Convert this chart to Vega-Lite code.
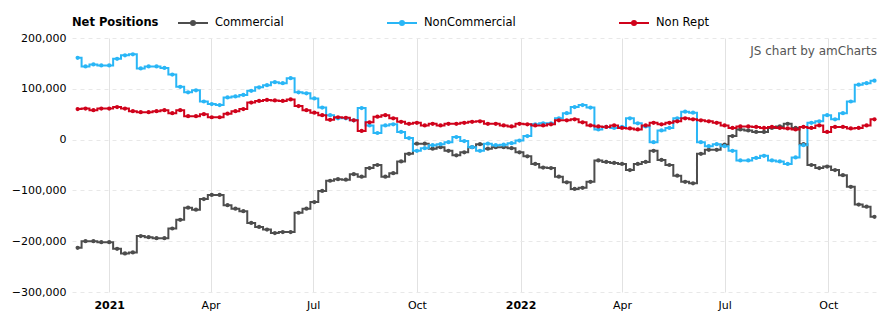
{
"$schema": "https://vega.github.io/schema/vega-lite/v6.json",
"width": 807, "height": 254,
"autosize": {"type": "none"},
"padding": {"left": 72, "top": 38, "right": 16, "bottom": 34},
"background": "white",
"config": {"view": {"stroke": null}, "font": "DejaVu Sans"},
"data": {"values": [
{"date":"2020-12-04","Commercial":-213000,"NonCommercial":161000,"Non Rept":60000},
{"date":"2020-12-11","Commercial":-200000,"NonCommercial":144000,"Non Rept":61000},
{"date":"2020-12-18","Commercial":-200000,"NonCommercial":148000,"Non Rept":58000},
{"date":"2020-12-25","Commercial":-202000,"NonCommercial":146000,"Non Rept":61000},
{"date":"2021-01-01","Commercial":-202000,"NonCommercial":146000,"Non Rept":61000},
{"date":"2021-01-08","Commercial":-215000,"NonCommercial":159000,"Non Rept":64000},
{"date":"2021-01-15","Commercial":-224000,"NonCommercial":166000,"Non Rept":61000},
{"date":"2021-01-22","Commercial":-222000,"NonCommercial":168000,"Non Rept":56000},
{"date":"2021-01-29","Commercial":-190000,"NonCommercial":140000,"Non Rept":54000},
{"date":"2021-02-05","Commercial":-192000,"NonCommercial":144000,"Non Rept":54000},
{"date":"2021-02-12","Commercial":-194000,"NonCommercial":144000,"Non Rept":56000},
{"date":"2021-02-19","Commercial":-194000,"NonCommercial":141000,"Non Rept":58000},
{"date":"2021-02-26","Commercial":-175000,"NonCommercial":128000,"Non Rept":52000},
{"date":"2021-03-05","Commercial":-158000,"NonCommercial":104000,"Non Rept":58000},
{"date":"2021-03-12","Commercial":-134000,"NonCommercial":93000,"Non Rept":46000},
{"date":"2021-03-19","Commercial":-138000,"NonCommercial":97000,"Non Rept":46000},
{"date":"2021-03-26","Commercial":-117000,"NonCommercial":75000,"Non Rept":50000},
{"date":"2021-04-02","Commercial":-109000,"NonCommercial":70000,"Non Rept":44000},
{"date":"2021-04-09","Commercial":-109000,"NonCommercial":68000,"Non Rept":44000},
{"date":"2021-04-16","Commercial":-129000,"NonCommercial":83000,"Non Rept":51000},
{"date":"2021-04-23","Commercial":-136000,"NonCommercial":85000,"Non Rept":56000},
{"date":"2021-04-30","Commercial":-141000,"NonCommercial":88000,"Non Rept":60000},
{"date":"2021-05-07","Commercial":-164000,"NonCommercial":96000,"Non Rept":73000},
{"date":"2021-05-14","Commercial":-172000,"NonCommercial":103000,"Non Rept":76000},
{"date":"2021-05-21","Commercial":-177000,"NonCommercial":107000,"Non Rept":78000},
{"date":"2021-05-28","Commercial":-184000,"NonCommercial":113000,"Non Rept":77000},
{"date":"2021-06-04","Commercial":-182000,"NonCommercial":111000,"Non Rept":76000},
{"date":"2021-06-11","Commercial":-182000,"NonCommercial":121000,"Non Rept":79000},
{"date":"2021-06-18","Commercial":-144000,"NonCommercial":93000,"Non Rept":66000},
{"date":"2021-06-25","Commercial":-136000,"NonCommercial":91000,"Non Rept":58000},
{"date":"2021-07-02","Commercial":-123000,"NonCommercial":81000,"Non Rept":53000},
{"date":"2021-07-09","Commercial":-101000,"NonCommercial":63000,"Non Rept":48000},
{"date":"2021-07-16","Commercial":-81000,"NonCommercial":48000,"Non Rept":39000},
{"date":"2021-07-23","Commercial":-78000,"NonCommercial":42000,"Non Rept":44000},
{"date":"2021-07-30","Commercial":-79000,"NonCommercial":42000,"Non Rept":43000},
{"date":"2021-08-06","Commercial":-68000,"NonCommercial":38000,"Non Rept":38000},
{"date":"2021-08-13","Commercial":-73000,"NonCommercial":62000,"Non Rept":17000},
{"date":"2021-08-20","Commercial":-56000,"NonCommercial":28000,"Non Rept":34000},
{"date":"2021-08-27","Commercial":-50000,"NonCommercial":13000,"Non Rept":45000},
{"date":"2021-09-03","Commercial":-73000,"NonCommercial":28000,"Non Rept":48000},
{"date":"2021-09-10","Commercial":-66000,"NonCommercial":30000,"Non Rept":42000},
{"date":"2021-09-17","Commercial":-43000,"NonCommercial":15000,"Non Rept":35000},
{"date":"2021-09-24","Commercial":-28000,"NonCommercial":3000,"Non Rept":31000},
{"date":"2021-10-01","Commercial":-8000,"NonCommercial":-22000,"Non Rept":33000},
{"date":"2021-10-08","Commercial":-8000,"NonCommercial":-17000,"Non Rept":28000},
{"date":"2021-10-15","Commercial":-18000,"NonCommercial":-11000,"Non Rept":31000},
{"date":"2021-10-22","Commercial":-15000,"NonCommercial":-9000,"Non Rept":28000},
{"date":"2021-10-29","Commercial":-22000,"NonCommercial":-5000,"Non Rept":31000},
{"date":"2021-11-05","Commercial":-31000,"NonCommercial":5000,"Non Rept":31000},
{"date":"2021-11-12","Commercial":-25000,"NonCommercial":-3000,"Non Rept":33000},
{"date":"2021-11-19","Commercial":-15000,"NonCommercial":-15000,"Non Rept":35000},
{"date":"2021-11-26","Commercial":-9000,"NonCommercial":-22000,"Non Rept":36000},
{"date":"2021-12-03","Commercial":-18000,"NonCommercial":-8000,"Non Rept":31000},
{"date":"2021-12-10","Commercial":-15000,"NonCommercial":-11000,"Non Rept":31000},
{"date":"2021-12-17","Commercial":-15000,"NonCommercial":-10000,"Non Rept":28000},
{"date":"2021-12-24","Commercial":-17000,"NonCommercial":-7000,"Non Rept":26000},
{"date":"2021-12-31","Commercial":-25000,"NonCommercial":-2000,"Non Rept":31000},
{"date":"2022-01-07","Commercial":-33000,"NonCommercial":7000,"Non Rept":30000},
{"date":"2022-01-14","Commercial":-48000,"NonCommercial":30000,"Non Rept":28000},
{"date":"2022-01-21","Commercial":-55000,"NonCommercial":32000,"Non Rept":28000},
{"date":"2022-01-28","Commercial":-56000,"NonCommercial":32000,"Non Rept":30000},
{"date":"2022-02-04","Commercial":-73000,"NonCommercial":42000,"Non Rept":38000},
{"date":"2022-02-11","Commercial":-84000,"NonCommercial":52000,"Non Rept":38000},
{"date":"2022-02-18","Commercial":-97000,"NonCommercial":64000,"Non Rept":40000},
{"date":"2022-02-25","Commercial":-95000,"NonCommercial":68000,"Non Rept":34000},
{"date":"2022-03-04","Commercial":-83000,"NonCommercial":63000,"Non Rept":28000},
{"date":"2022-03-11","Commercial":-41000,"NonCommercial":20000,"Non Rept":26000},
{"date":"2022-03-18","Commercial":-44000,"NonCommercial":25000,"Non Rept":25000},
{"date":"2022-03-25","Commercial":-46000,"NonCommercial":23000,"Non Rept":28000},
{"date":"2022-04-01","Commercial":-48000,"NonCommercial":25000,"Non Rept":23000},
{"date":"2022-04-08","Commercial":-60000,"NonCommercial":42000,"Non Rept":22000},
{"date":"2022-04-15","Commercial":-48000,"NonCommercial":32000,"Non Rept":20000},
{"date":"2022-04-22","Commercial":-44000,"NonCommercial":26000,"Non Rept":28000},
{"date":"2022-04-29","Commercial":-22000,"NonCommercial":-5000,"Non Rept":33000},
{"date":"2022-05-06","Commercial":-40000,"NonCommercial":18000,"Non Rept":30000},
{"date":"2022-05-13","Commercial":-50000,"NonCommercial":23000,"Non Rept":33000},
{"date":"2022-05-20","Commercial":-71000,"NonCommercial":42000,"Non Rept":36000},
{"date":"2022-05-27","Commercial":-83000,"NonCommercial":55000,"Non Rept":42000},
{"date":"2022-06-03","Commercial":-86000,"NonCommercial":53000,"Non Rept":40000},
{"date":"2022-06-10","Commercial":-28000,"NonCommercial":-5000,"Non Rept":38000},
{"date":"2022-06-17","Commercial":-20000,"NonCommercial":-13000,"Non Rept":36000},
{"date":"2022-06-24","Commercial":-20000,"NonCommercial":-9000,"Non Rept":33000},
{"date":"2022-07-01","Commercial":-10000,"NonCommercial":-13000,"Non Rept":28000},
{"date":"2022-07-08","Commercial":7000,"NonCommercial":-22000,"Non Rept":23000},
{"date":"2022-07-15","Commercial":20000,"NonCommercial":-41000,"Non Rept":26000},
{"date":"2022-07-22","Commercial":18000,"NonCommercial":-41000,"Non Rept":26000},
{"date":"2022-07-29","Commercial":15000,"NonCommercial":-36000,"Non Rept":25000},
{"date":"2022-08-05","Commercial":15000,"NonCommercial":-32000,"Non Rept":23000},
{"date":"2022-08-12","Commercial":23000,"NonCommercial":-41000,"Non Rept":25000},
{"date":"2022-08-19","Commercial":26000,"NonCommercial":-43000,"Non Rept":23000},
{"date":"2022-08-26","Commercial":31000,"NonCommercial":-48000,"Non Rept":22000},
{"date":"2022-09-02","Commercial":23000,"NonCommercial":-35000,"Non Rept":20000},
{"date":"2022-09-09","Commercial":-9000,"NonCommercial":-11000,"Non Rept":25000},
{"date":"2022-09-16","Commercial":-50000,"NonCommercial":33000,"Non Rept":23000},
{"date":"2022-09-23","Commercial":-56000,"NonCommercial":36000,"Non Rept":28000},
{"date":"2022-09-30","Commercial":-53000,"NonCommercial":48000,"Non Rept":15000},
{"date":"2022-10-07","Commercial":-60000,"NonCommercial":40000,"Non Rept":25000},
{"date":"2022-10-14","Commercial":-70000,"NonCommercial":52000,"Non Rept":25000},
{"date":"2022-10-21","Commercial":-93000,"NonCommercial":75000,"Non Rept":22000},
{"date":"2022-10-28","Commercial":-128000,"NonCommercial":108000,"Non Rept":23000},
{"date":"2022-11-04","Commercial":-132000,"NonCommercial":111000,"Non Rept":28000},
{"date":"2022-11-11","Commercial":-152000,"NonCommercial":116000,"Non Rept":40000}
]},
"layer": [
{
"transform": [{"fold": ["Commercial", "NonCommercial", "Non Rept"], "as": ["series", "value"]}],
"mark": {"type": "line", "interpolate": "step", "strokeWidth": 2},
"encoding": {
"x": {"field": "date", "type": "temporal",
"scale": {"type": "utc", "domain": [{"year": 2020, "month": 11, "date": 29, "utc": true}, {"year": 2022, "month": 11, "date": 15, "utc": true}]},
"axis": {"title": null, "values": [
{"year": 2021, "month": 1, "date": 1, "utc": true}, {"year": 2021, "month": 4, "date": 1, "utc": true},
{"year": 2021, "month": 7, "date": 1, "utc": true}, {"year": 2021, "month": 10, "date": 1, "utc": true},
{"year": 2022, "month": 1, "date": 1, "utc": true}, {"year": 2022, "month": 4, "date": 1, "utc": true},
{"year": 2022, "month": 7, "date": 1, "utc": true}, {"year": 2022, "month": 10, "date": 1, "utc": true}],
"labelExpr": "utcmonth(datum.value) == 0 ? utcFormat(datum.value, '%Y') : utcFormat(datum.value, '%b')",
"labelFontWeight": {"condition": {"test": "utcmonth(datum.value) == 0", "value": "bold"}, "value": "normal"},
"labelFontSize": 11, "labelColor": "#000000", "ticks": false, "domain": false, "labelPadding": 7,
"labelFlush": false, "labelOverlap": false, "gridColor": "#e2e2e2", "gridWidth": 1}},
"y": {"field": "value", "type": "quantitative",
"scale": {"domain": [-300000, 200000], "nice": false, "zero": false},
"axis": {"title": null, "values": [-300000, -200000, -100000, 0, 100000, 200000], "format": ",d",
"labelFontSize": 11, "labelColor": "#000000", "ticks": false, "domain": false, "labelPadding": 6,
"gridColor": "#e8e8e8", "gridDash": [4, 4]}},
"color": {"field": "series", "type": "nominal",
"scale": {"domain": ["Commercial", "NonCommercial", "Non Rept"], "range": ["#4d4d4d", "#29b6f6", "#d0021b"]},
"legend": {"title": "Net Positions", "orient": "top", "direction": "horizontal",
"titleOrient": "left",
"titleFontSize": 11.5, "titleFontWeight": "bold", "titleColor": "#000000", "titlePadding": 28,
"labelFontSize": 11.5, "labelColor": "#000000", "labelOffset": 16,
"symbolType": "M-3,0H3M0.4,0A0.4,0.4,0,1,1,-0.4,0A0.4,0.4,0,1,1,0.4,0",
"symbolSize": 100, "symbolStrokeWidth": 2,
"columnPadding": 99, "gridAlign": "none", "offset": 9, "padding": 0}}
}
},
{
"transform": [{"fold": ["Commercial", "NonCommercial", "Non Rept"], "as": ["series", "value"]}],
"mark": {"type": "point", "filled": true, "size": 18, "opacity": 1},
"encoding": {
"x": {"field": "date", "type": "temporal"},
"y": {"field": "value", "type": "quantitative"},
"color": {"field": "series", "type": "nominal", "legend": null}
}
},
{
"data": {"values": [{"note": "JS chart by amCharts"}]},
"mark": {"type": "text", "align": "right", "baseline": "middle", "fontSize": 12, "color": "#555555", "dx": -2},
"encoding": {
"x": {"datum": {"year": 2022, "month": 11, "date": 15, "utc": true}, "type": "temporal"},
"y": {"datum": 175000, "type": "quantitative"},
"text": {"field": "note"}
}
}
]
}
